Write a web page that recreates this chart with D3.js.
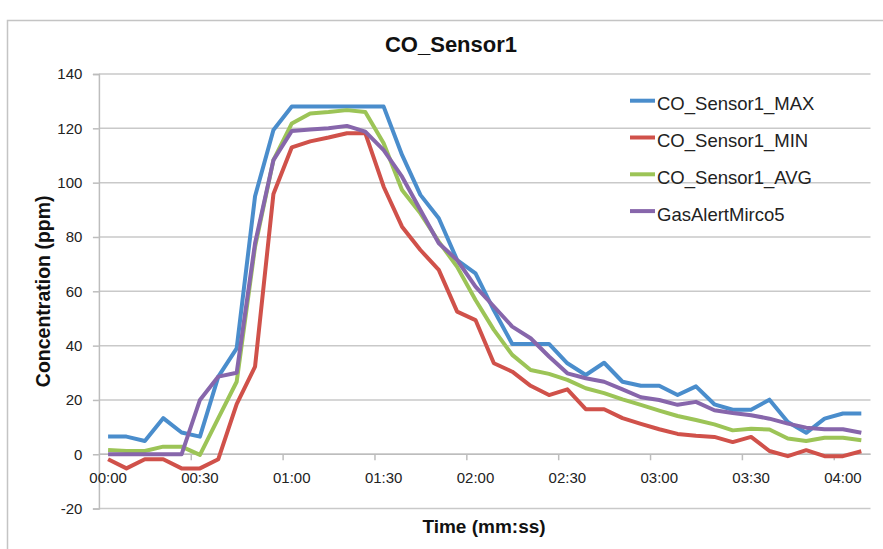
<!DOCTYPE html>
<html>
<head>
<meta charset="utf-8">
<script src="https://cdn.jsdelivr.net/npm/d3@7"></script>
<style>
  body { margin: 0; background: #fff; }
  svg { display: block; font-family: "Liberation Sans", Arial, sans-serif; }
</style>
</head>
<body>
<svg id="chart" width="883" height="549"></svg>
<script>
// samples every 6 s, 00:00 .. 04:06
const sampleTimes = d3.range(42).map(i => {
  const s = i * 6;
  return String(Math.floor(s / 60)).padStart(2, "0") + ":" + String(s % 60).padStart(2, "0");
});
const tickLabels = ["00:00", "00:30", "01:00", "01:30", "02:00", "02:30", "03:00", "03:30", "04:00"];
const yTicks = [-20, 0, 20, 40, 60, 80, 100, 120, 140];

const seriesNames = ["CO_Sensor1_MAX", "CO_Sensor1_MIN", "CO_Sensor1_AVG", "GasAlertMirco5"];
const seriesColors = ["#4a8dcc", "#d0514a", "#9cc457", "#8766ab"];

const maxValues = [6.5, 6.5, 4.9, 13.3, 8, 6.5, 28.6, 39, 95, 119.4, 128, 128,
  128, 128, 128, 128, 110.2, 95.5, 86.9, 71.5, 66.6, 53, 40.6, 40.6, 40.6, 33.5,
  29.2, 33.7, 26.7, 25.2, 25.2, 21.8, 25, 18.4, 16.4, 16.4, 20.1, 11.9, 7.9, 13.1, 15, 15];
const minValues = [-1.8, -5.2, -1.8, -1.8, -5.2, -5.2, -1.8, 18.5, 32.3, 95.8, 113, 115.2,
  116.6, 118.2, 118.2, 98.5, 83.8, 75.2, 67.9, 52.5, 49.4, 33.5, 30.4, 25.2, 21.8, 23.9,
  16.6, 16.6, 13.3, 11.2, 9.2, 7.5, 6.8, 6.4, 4.5, 6.4, 1.2, -0.7, 1.5, -0.7, -0.7, 1.1];
const avgValues = [1.6, 1.2, 1.2, 2.8, 2.8, -0.2, 13.3, 26.7, 76.4, 108.3, 121.8, 125.5,
  126, 126.7, 126, 114.5, 97.3, 88.7, 78.3, 69, 56.8, 45.8, 36.6, 31, 29.6, 27.4,
  24.3, 22.5, 20.2, 18.2, 16.1, 14.1, 12.6, 11, 8.8, 9.4, 9.1, 5.8, 4.9, 6.1, 6.1, 5.2];
const gasAlertValues = [0, 0, 0, 0, 0, 20, 28.6, 30, 77.7, 108.3, 119, 119.6,
  120, 120.9, 118.8, 112, 102.2, 89.9, 77.7, 71.5, 61.7, 54.4, 47, 42.7, 36, 29.8,
  28, 26.7, 23.9, 21, 20, 18.2, 19.3, 16.2, 15.2, 14.4, 13.1, 11.3, 9.8, 9.2, 9.2, 7.9];

const seriesValues = [maxValues, minValues, avgValues, gasAlertValues];

const svg = d3.select("#chart");
const plotLeft = 98.9, plotRight = 870.5, plotTop = 74, plotBottom = 508.6;

// chart frame
svg.append("rect")
  .attr("x", 7.5).attr("y", 20.5)
  .attr("width", 900).attr("height", 560)
  .attr("fill", "#fff")
  .attr("stroke", "#c4c4c4").attr("stroke-width", 1.5);

const x = d3.scaleLinear().domain([-0.5, sampleTimes.length - 0.5]).range([plotLeft, plotRight]);
const y = d3.scaleLinear().domain([-20, 140]).range([plotBottom, plotTop]);

// gridlines
svg.append("g")
  .selectAll("line")
  .data(yTicks)
  .join("line")
  .attr("x1", plotLeft).attr("x2", plotRight)
  .attr("y1", d => y(d)).attr("y2", d => y(d))
  .attr("stroke", "#c9c9c9").attr("stroke-width", 1.5);

// y axis
const yAxis = svg.append("g")
  .attr("transform", `translate(${plotLeft},0)`)
  .call(d3.axisLeft(y).tickValues(yTicks).tickSize(6).tickPadding(10.5)
    .tickFormat(d => (d < 0 ? "-" : "") + Math.abs(d)));
yAxis.select(".domain").attr("stroke", "#bdbdbd").attr("stroke-width", 1.5);
yAxis.selectAll(".tick line").attr("stroke", "#bdbdbd").attr("stroke-width", 1.5);
yAxis.selectAll("text").attr("font-size", 15).attr("fill", "#222");

// x axis (category axis crossing at 0, ticks between categories)
const tickPositions = d3.range(4.5, sampleTimes.length - 1, 5);
const xAxis = svg.append("g")
  .attr("transform", `translate(0,${y(0)})`)
  .call(d3.axisBottom(x).tickValues(tickPositions).tickSize(6).tickFormat(""));
xAxis.select(".domain").attr("d", `M${plotLeft},0H${plotRight}`).attr("stroke", "#bdbdbd").attr("stroke-width", 1.5);
xAxis.selectAll(".tick line").attr("stroke", "#bdbdbd").attr("stroke-width", 1.5);

svg.append("g")
  .selectAll("text")
  .data(tickLabels)
  .join("text")
  .attr("x", d => x(sampleTimes.indexOf(d)))
  .attr("y", y(0) + 29)
  .attr("text-anchor", "middle")
  .attr("font-size", 15)
  .attr("fill", "#222")
  .text(d => d);

// lines
const line = d3.line().x((d, i) => x(i)).y(d => y(d));
svg.append("g")
  .selectAll("path")
  .data(seriesValues)
  .join("path")
  .attr("d", d => line(d))
  .attr("fill", "none")
  .attr("stroke", (d, i) => seriesColors[i])
  .attr("stroke-width", 4)
  .attr("stroke-linejoin", "round");

// titles
svg.append("text")
  .attr("x", 451).attr("y", 52)
  .attr("text-anchor", "middle")
  .attr("font-size", 22).attr("font-weight", "bold").attr("fill", "#111")
  .text("CO_Sensor1");

svg.append("text")
  .attr("transform", `translate(50,${(plotTop + plotBottom) / 2}) rotate(-90)`)
  .attr("text-anchor", "middle")
  .attr("font-size", 19.5).attr("font-weight", "bold").attr("fill", "#111")
  .text("Concentration (ppm)");

svg.append("text")
  .attr("x", 484).attr("y", 533)
  .attr("text-anchor", "middle")
  .attr("font-size", 19).attr("font-weight", "bold").attr("fill", "#111")
  .text("Time (mm:ss)");

// legend
const legend = svg.append("g")
  .selectAll("g")
  .data(seriesNames)
  .join("g")
  .attr("transform", (d, i) => `translate(630,${100.7 + i * 36.8})`);
legend.append("line")
  .attr("x1", 0).attr("x2", 25)
  .attr("stroke", (d, i) => seriesColors[i])
  .attr("stroke-width", 4);
legend.append("text")
  .attr("x", 27).attr("y", 9.5)
  .attr("font-size", 18.5).attr("fill", "#222")
  .text(d => d);
</script>
</body>
</html>
